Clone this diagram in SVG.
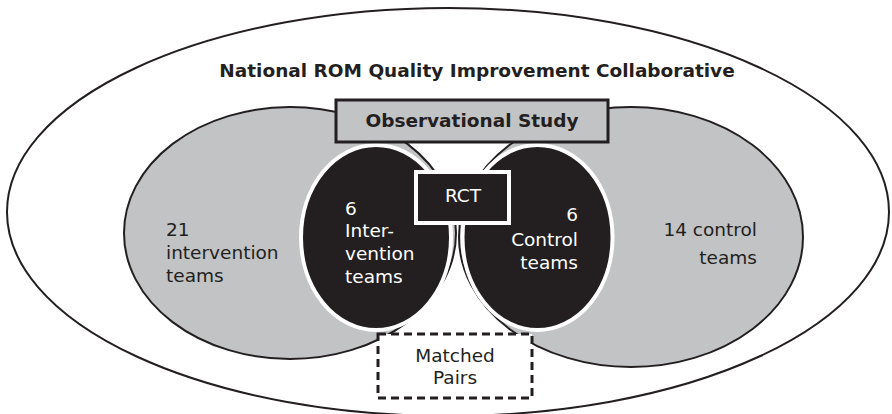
<svg xmlns="http://www.w3.org/2000/svg" width="892" height="414" viewBox="0 0 892 414">
<style>
.t{font-family:"DejaVu Sans",Verdana,sans-serif;font-size:18.5px;fill:#231f20}
.w{fill:#ffffff}
.b{font-weight:bold}
.gray{fill:#c2c3c5;stroke:#231f20;stroke-width:2}
.blk{fill:#231f20;stroke:#ffffff;stroke-width:4}
</style>
<rect width="892" height="414" fill="#ffffff"/>
<g id="collaborative">
<ellipse cx="448" cy="212" rx="441" ry="204" fill="#ffffff" stroke="#231f20" stroke-width="2"/>
<text class="t b" x="477" y="77" text-anchor="middle" font-size="18.3">National ROM Quality Improvement Collaborative</text>
</g>
<g id="intervention-21">
<ellipse class="gray" cx="290" cy="233" rx="166" ry="126"/>
<text class="t" x="166" y="236">21</text>
<text class="t" x="166" y="259">intervention</text>
<text class="t" x="166" y="282">teams</text>
</g>
<g id="control-14">
<ellipse class="gray" cx="631" cy="237" rx="172" ry="130"/>
<text class="t" x="757" y="236" text-anchor="end">14 control</text>
<text class="t" x="757" y="264" text-anchor="end">teams</text>
</g>
<g id="intervention-6">
<ellipse class="blk" cx="376" cy="237.5" rx="75" ry="92.5"/>
<text class="t w" x="345" y="215">6</text>
<text class="t w" x="345" y="237">Inter-</text>
<text class="t w" x="345" y="260">vention</text>
<text class="t w" x="345" y="283">teams</text>
</g>
<g id="control-6">
<ellipse class="blk" cx="537.5" cy="237.5" rx="75" ry="92.5"/>
<text class="t w" x="578" y="221" text-anchor="end">6</text>
<text class="t w" x="578" y="246" text-anchor="end">Control</text>
<text class="t w" x="578" y="269" text-anchor="end">teams</text>
</g>
<g id="observational-study">
<rect x="336" y="100" width="272" height="42" fill="#c2c3c5" stroke="#231f20" stroke-width="3"/>
<text class="t b" x="472" y="127" text-anchor="middle">Observational Study</text>
</g>
<g id="rct">
<rect x="416" y="172" width="93" height="51" fill="#231f20" stroke="#ffffff" stroke-width="4"/>
<text class="t w" x="463" y="202" text-anchor="middle">RCT</text>
</g>
<g id="matched-pairs">
<rect x="378" y="334" width="154" height="64" fill="#ffffff" stroke="#231f20" stroke-width="3" stroke-dasharray="8 5"/>
<text class="t" x="455" y="362" text-anchor="middle">Matched</text>
<text class="t" x="455" y="384" text-anchor="middle">Pairs</text>
</g>
<g id="connectors"/>
</svg>
